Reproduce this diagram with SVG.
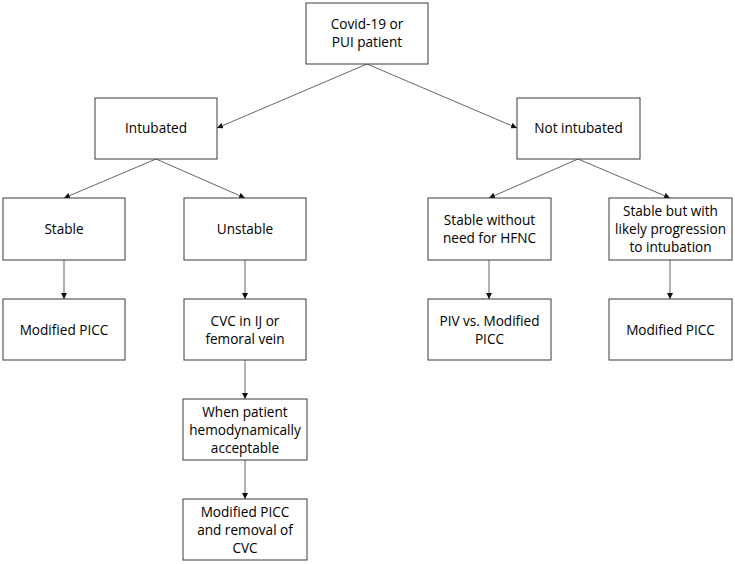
<svg xmlns="http://www.w3.org/2000/svg" width="735" height="564" viewBox="0 0 735 564">
<style>
.box{fill:#fff;stroke:#3a3a3a;stroke-width:1}
.t{font-family:"Open Sans","Liberation Sans",sans-serif;font-size:13.6px;fill:#000;text-anchor:middle}
.c{stroke:#666;stroke-width:1;fill:none;marker-end:url(#ah)}
</style>
<defs>
<marker id="ah" viewBox="0 0 10 10" refX="10" refY="5" markerWidth="6" markerHeight="6" markerUnits="userSpaceOnUse" orient="auto">
<path d="M0,0 L10,5 L0,10 z" fill="#111"/>
</marker>
</defs>
<rect width="735" height="564" fill="#fff"/>
<g id="connectors">
<line class="c" x1="367" y1="64" x2="217" y2="128"/>
<line class="c" x1="367" y1="64" x2="517" y2="128"/>
<line class="c" x1="156" y1="159" x2="64" y2="198"/>
<line class="c" x1="156" y1="159" x2="245" y2="198"/>
<line class="c" x1="578" y1="159" x2="489" y2="198"/>
<line class="c" x1="578" y1="159" x2="670" y2="198"/>
<line class="c" x1="64" y1="260" x2="64" y2="299"/>
<line class="c" x1="245" y1="260" x2="245" y2="299"/>
<line class="c" x1="489" y1="260" x2="489" y2="299"/>
<line class="c" x1="670" y1="260" x2="670" y2="299"/>
<line class="c" x1="245" y1="360" x2="245" y2="399"/>
<line class="c" x1="245" y1="460" x2="245" y2="499"/>
</g>
<g id="n-covid"><rect class="box" x="306" y="3" width="122" height="61"/><text class="t" x="367" y="29">Covid-19 or</text><text class="t" x="367" y="47">PUI patient</text></g>
<g id="n-intubated"><rect class="box" x="95" y="98" width="122" height="61"/><text class="t" x="156" y="133">Intubated</text></g>
<g id="n-notintubated"><rect class="box" x="517" y="98" width="123" height="61"/><text class="t" x="578.5" y="133">Not intubated</text></g>
<g id="n-stable"><rect class="box" x="3" y="198" width="122" height="62"/><text class="t" x="64" y="234">Stable</text></g>
<g id="n-unstable"><rect class="box" x="184" y="198" width="122" height="62"/><text class="t" x="245" y="234">Unstable</text></g>
<g id="n-stablewithout"><rect class="box" x="428" y="198" width="123" height="62"/><text class="t" x="489.5" y="225">Stable without</text><text class="t" x="489.5" y="243">need for HFNC</text></g>
<g id="n-stablebut"><rect class="box" x="609" y="198" width="123" height="62"/><text class="t" x="670.5" y="216">Stable but with</text><text class="t" x="670.5" y="234">likely progression</text><text class="t" x="670.5" y="252">to intubation</text></g>
<g id="n-picc1"><rect class="box" x="3" y="299" width="122" height="61"/><text class="t" x="64" y="335">Modified PICC</text></g>
<g id="n-cvc"><rect class="box" x="184" y="299" width="122" height="61"/><text class="t" x="245" y="326">CVC in IJ or</text><text class="t" x="245" y="344">femoral vein</text></g>
<g id="n-piv"><rect class="box" x="428" y="299" width="123" height="61"/><text class="t" x="489.5" y="326">PIV vs. Modified</text><text class="t" x="489.5" y="344">PICC</text></g>
<g id="n-picc2"><rect class="box" x="609" y="299" width="123" height="61"/><text class="t" x="670.5" y="335">Modified PICC</text></g>
<g id="n-when"><rect class="box" x="183" y="399" width="124" height="61"/><text class="t" x="245" y="417">When patient</text><text class="t" x="245" y="435">hemodynamically</text><text class="t" x="245" y="453">acceptable</text></g>
<g id="n-picc3"><rect class="box" x="183" y="499" width="124" height="61"/><text class="t" x="245" y="517">Modified PICC</text><text class="t" x="245" y="535">and removal of</text><text class="t" x="245" y="553">CVC</text></g>
</svg>
